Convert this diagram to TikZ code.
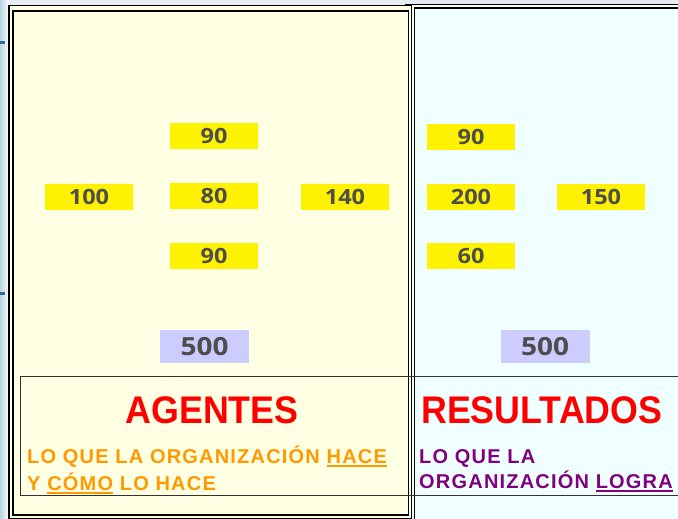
\documentclass[tikz,border=0pt]{standalone}
\usepackage{fontspec}
\setmainfont{Liberation Sans}
\newfontfamily\numfont[FakeStretch=1.12]{Open Sans}
\newfontfamily\headfont[FakeStretch=0.93]{Liberation Sans}
\newfontfamily\smallfont[LetterSpace=6]{Liberation Sans}
\definecolor{numgray}{HTML}{4D4D4D}
\definecolor{creambg}{HTML}{FFFFE3}
\definecolor{azurebg}{HTML}{F0FFFF}
\definecolor{lavbox}{HTML}{CCCCFF}
\definecolor{orangetxt}{HTML}{FF9900}
\definecolor{purpletxt}{HTML}{800080}
\definecolor{stripblue}{HTML}{BCD3E2}
\definecolor{stripmark}{HTML}{2F6D8C}
\definecolor{topbg}{HTML}{E6ECF2}
\newcommand\myul[1]{\setbox0\hbox{#1}\rlap{\rule[-3.5pt]{\wd0}{1.8pt}}\box0\relax}
\tikzset{
  numbox/.style={fill=yellow, minimum width=88pt, minimum height=26pt, inner sep=0pt,
    text=numgray, font=\numfont\bfseries\fontsize{21}{21}\selectfont},
  totbox/.style={fill=lavbox, minimum width=89pt, minimum height=33pt, inner sep=0pt,
    text=numgray, font=\numfont\bfseries\fontsize{25}{25}\selectfont},
  heading/.style={text=red, inner sep=0pt, font=\headfont\bfseries\fontsize{38.5}{38.5}\selectfont},
  subtxt/.style={inner sep=0pt, font=\smallfont\bfseries\fontsize{20}{20}\selectfont},
  border/.style={draw=black, line width=1.5pt}
}
\begin{document}
\begin{tikzpicture}[x=1pt,y=-1pt]
\useasboundingbox (0,0) rectangle (678,519);
% background
\fill[topbg] (0,0) rectangle (678,519);
\shade[left color=stripblue, right color=white] (0,0) rectangle (9,519);
\fill[stripmark] (0,41.5) rectangle (5,44.5);
\fill[stripmark] (0,291.5) rectangle (5,294.5);
% right panel
\fill[azurebg] (405.5,4.5) rectangle (700,530);
\draw[border] (405.5,4.5) rectangle (700,530);
\draw[border] (414.5,8) rectangle (700,530);
% left panel
\fill[creambg] (9,5.5) rectangle (411.5,518.5);
\draw[border] (9,5.5) rectangle (411.5,518.5);
\draw[border] (13,11) rectangle (408.5,515);
% bottom band
\draw[draw=black!80, line width=1pt] (20,376.5) rectangle (700,495.5);
% numbers left
\node[numbox] (l90a) at (214,136) {90};
\node[numbox] (l100) at (89,197) {100};
\node[numbox] (l80) at (214,196) {80};
\node[numbox] (l140) at (345,197) {140};
\node[numbox] (l90b) at (214,256) {90};
\node[totbox] (l500) at (204.5,346.5) {500};
% numbers right
\node[numbox] (r90) at (471,137) {90};
\node[numbox] (r200) at (471,197) {200};
\node[numbox] (r150) at (601,197) {150};
\node[numbox] (r60) at (471,256) {60};
\node[totbox] (r500) at (545,346.5) {500};
% headings
\node[heading, anchor=base] (agentes) at (212,423) {AGENTES};
\node[heading, anchor=base west] (resultados) at (421,423) {RESULTADOS};
% sub texts
\node[subtxt, text=orangetxt, anchor=base west] (ag1) at (27,463) {LO QUE LA ORGANIZACIÓN \myul{HACE}};
\node[subtxt, text=orangetxt, anchor=base west] (ag2) at (27,490) {Y \myul{CÓMO} LO HACE};
\node[subtxt, text=purpletxt, anchor=base west] (re1) at (419,463) {LO QUE LA};
\node[subtxt, text=purpletxt, anchor=base west] (re2) at (419,488) {ORGANIZACIÓN \myul{LOGRA}};
\end{tikzpicture}
\end{document}
